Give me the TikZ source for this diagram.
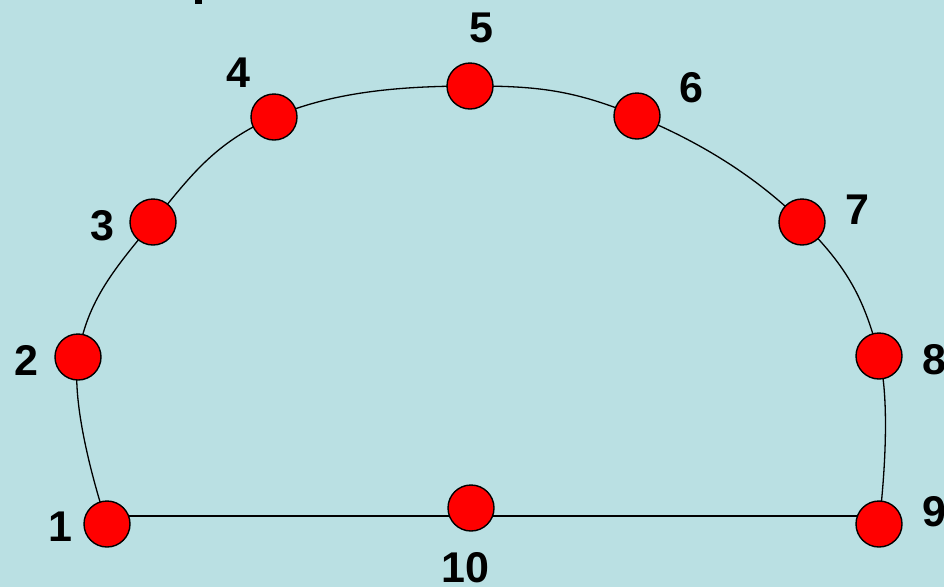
\documentclass[tikz,border=0pt]{standalone}
\usepackage{fontspec}
\setmainfont{Liberation Sans}
\definecolor{bgblue}{RGB}{186,224,227}
\tikzset{
  dot/.style={circle,draw=black,line width=1.4pt,fill=red,minimum size=46pt,inner sep=0pt},
  lbl/.style={inner sep=0pt,font=\fontsize{43}{43}\selectfont\bfseries},
  link/.style={draw=black,line width=1.3pt}
}
\begin{document}
\begin{tikzpicture}[x=1pt,y=-1pt]
\fill[bgblue] (0,0) rectangle (944,587);
\useasboundingbox (0,0) rectangle (944,587);
\fill[black] (195,0) rectangle (202,4);
\coordinate (c1) at (107,524);
\coordinate (c2) at (78,357);
\coordinate (c3) at (153,222);
\coordinate (c4) at (274,117);
\coordinate (c5) at (470,86);
\coordinate (c6) at (637,116);
\coordinate (c7) at (802,222);
\coordinate (c8) at (879,356);
\coordinate (c9) at (879,524);
\coordinate (c10) at (471,508);
\coordinate (b1) at (107,516);
\coordinate (b9) at (879,516);
\draw[link] plot[smooth,tension=0.68] coordinates {(c1) (c2) (c3) (c4) (c5) (c6) (c7) (c8) (c9)};
\draw[link] (b1) -- (b9);
\foreach \i in {1,...,10} {\node[dot] (n\i) at (c\i) {};}
\node[lbl] (l1) at (60,527) {1};
\node[lbl] (l2) at (26,360) {2};
\node[lbl] (l3) at (102,226) {3};
\node[lbl] (l4) at (238,73) {4};
\node[lbl] (l5) at (481,28) {5};
\node[lbl] (l6) at (691,88) {6};
\node[lbl] (l7) at (857,210) {7};
\node[lbl] (l8) at (934,360) {8};
\node[lbl] (l9) at (934,512) {9};
\node[lbl] (l10) at (465,568) {10};
\end{tikzpicture}
\end{document}
